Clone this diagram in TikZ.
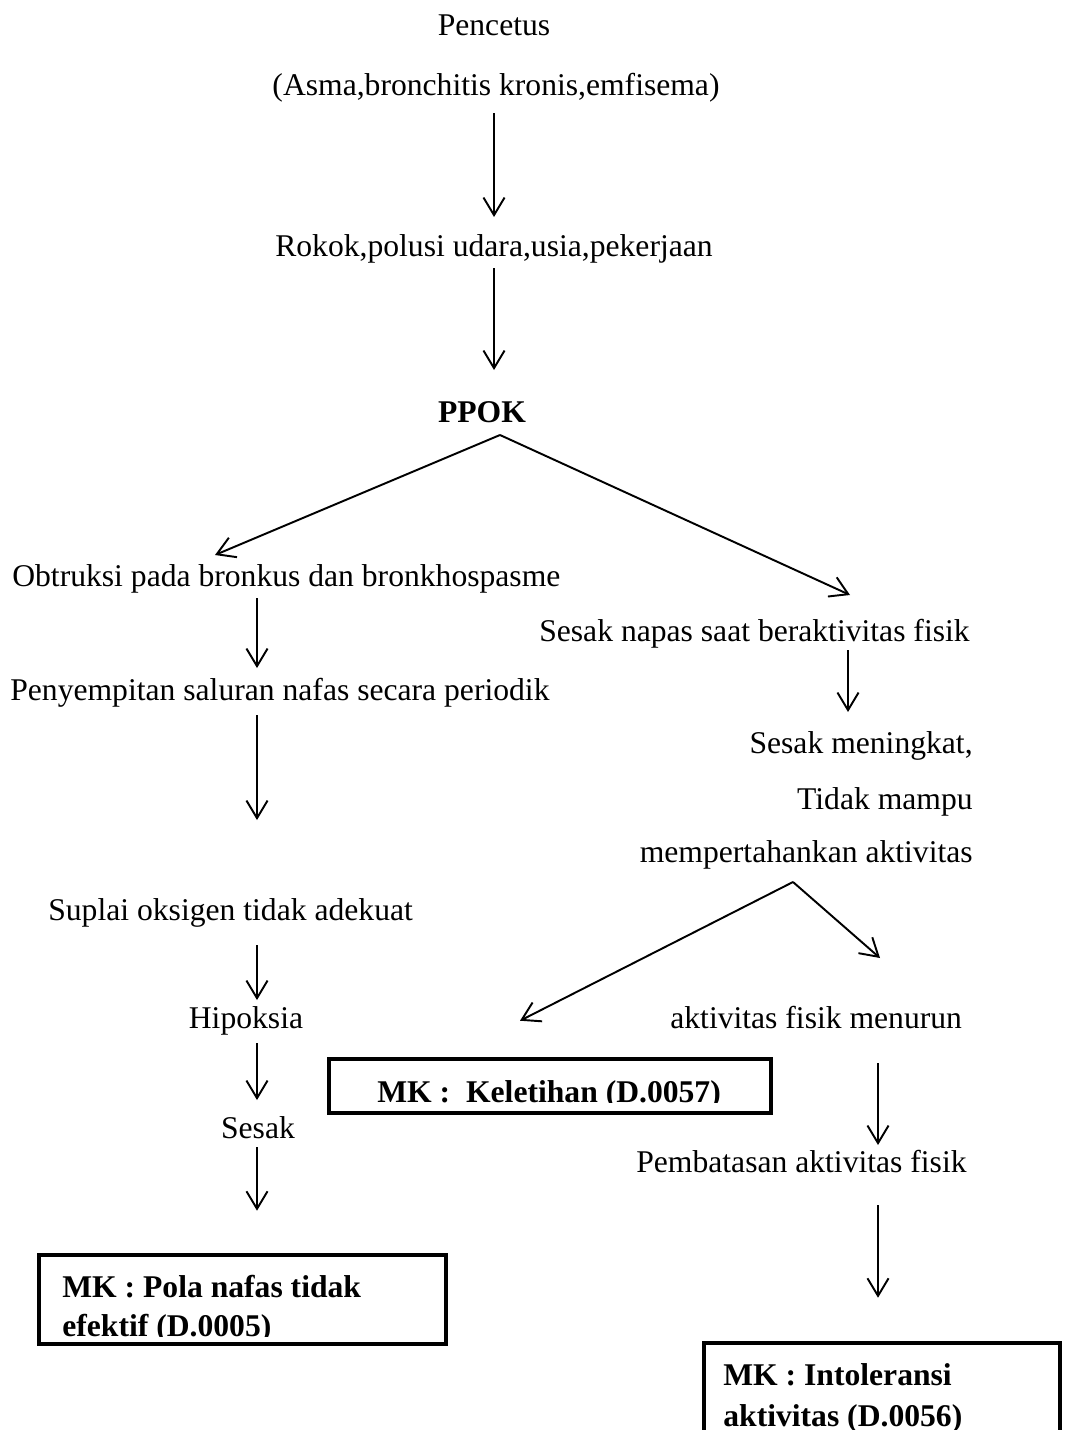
\documentclass[tikz,border=0pt]{standalone}
\usepackage{fontspec}
\setmainfont{Liberation Serif}
\usetikzlibrary{arrows.meta}
\usetikzlibrary{calc}
\usetikzlibrary{positioning}

\begin{document}
\begin{tikzpicture}[x=0.02cm, y=-0.02cm,
        txt/.style={inner sep=0pt, font=\fontsize{18}{22}\selectfont},
        mktxt/.style={inner sep=0pt, anchor=base west, font=\fontsize{18}{22}\selectfont\bfseries},
        arr/.style={-{Straight Barb[length=10pt, width=12pt]}, line width=1.1pt},
        mkbox/.style={draw, line width=2.6pt, inner sep=0pt}]
        \useasboundingbox (0,0) rectangle (1065,1430);
        \coordinate (lcol) at (257,0);
        \coordinate (rcol) at (878,0);
        % top chain
        \node [txt, anchor=base] (pencetus) at (494,35) {Pencetus};
        \node [txt, anchor=base] (asma) at (496,95) {(Asma,bronchitis kronis,emfisema)};
        \node [txt, anchor=base] (rokok) at (494,256) {Rokok,polusi udara,usia,pekerjaan};
        \node [txt, anchor=base, font=\fontsize{18}{22}\selectfont\bfseries] (ppok) at (482,422) {PPOK};
        % left branch
        \node [txt, anchor=base west] (obtruksi) at (12,586) {Obtruksi pada bronkus dan bronkhospasme};
        \node [txt, anchor=base west] (penyempitan) at (10,700) {Penyempitan saluran nafas secara periodik};
        \node [txt, anchor=base west] (suplai) at (48,920) {Suplai oksigen tidak adekuat};
        \node [txt, anchor=base] (hipoksia) at (246,1028) {Hipoksia};
        \node [txt, anchor=base] (sesak) at (258,1138) {Sesak};
        % right branch
        \node [txt, anchor=base east] (sesaknapas) at (970,641) {Sesak napas saat beraktivitas fisik};
        \node [txt, anchor=base east] (meningkat) at (973,753) {Sesak meningkat,};
        \node [txt, anchor=base east] (tidakmampu) at (973,809) {Tidak mampu};
        \node [txt, anchor=base east] (mempertahankan) at (973,862) {mempertahankan aktivitas};
        \node [txt, anchor=base west] (menurun) at (670,1028) {aktivitas fisik menurun};
        \node [txt, anchor=base west] (pembatasan) at (636,1172) {Pembatasan aktivitas fisik};
        % diagnosis boxes
        \node [mkbox, minimum width=8.84cm, minimum height=1.08cm] (keletihan) at (550,1086) {};
        \node [mkbox, minimum width=8.14cm, minimum height=1.78cm] (pola) at (242.5,1299.5) {};
        \node [mkbox, minimum width=7.12cm, minimum height=2.4cm] (intoleransi) at (882,1403) {};
        \begin{scope}
            \clip (keletihan.north west) rectangle ([yshift=7.4pt]keletihan.south east);
            \node [mktxt] (keletihantxt) at (377,1102) {MK :\ \ Keletihan (D.0057)};
        \end{scope}
        \begin{scope}
            \clip (pola.north west) rectangle ([yshift=5.7pt]pola.south east);
            \node [mktxt] (polatxt) at (62,1297) {MK : Pola nafas tidak};
            \node [mktxt, below=22.5pt of polatxt.base west, anchor=base west] (polatxtb) {efektif (D.0005)};
        \end{scope}
        \begin{scope}
            \clip (intoleransi.north west) rectangle (intoleransi.south east);
            \node [mktxt] (intoltxt) at (723,1385) {MK : Intoleransi};
            \node [mktxt, below=23.5pt of intoltxt.base west, anchor=base west] (intoltxtb) {aktivitas (D.0056)};
        \end{scope}
        % arrows
        \draw [arr] ($(asma.base)+(-2,18)$) -- ($(rokok.base)+(0,-39)$);
        \draw [arr] ($(rokok.base)+(0,12)$) -- ($(ppok.base)+(12,-52)$);
        \coordinate (split) at ($(ppok.base)+(18,13)$);
        \draw [arr] (split) -- ($(obtruksi.base west)+(203,-31)$);
        \draw [arr] (split) -- ($(sesaknapas.base east)+(-120,-46)$);
        \draw [arr] ($(obtruksi.base -| lcol)+(0,12)$) -- ($(penyempitan.base -| lcol)+(0,-32)$);
        \draw [arr] ($(penyempitan.base -| lcol)+(0,15)$) -- ($(suplai.base -| lcol)+(0,-100)$);
        \draw [arr] ($(sesaknapas.base east)+(-122,9)$) -- ($(meningkat.base east)+(-125,-41)$);
        \coordinate (fork) at ($(mempertahankan.base east)+(-180,20)$);
        \draw [arr] (fork) -- ($(keletihan.north)+(-30,-36)$);
        \draw [arr] (fork) -- ($(menurun.base west)+(210,-70)$);
        \draw [arr] ($(suplai.base -| lcol)+(0,25)$) -- ($(hipoksia.base -| lcol)+(0,-28)$);
        \draw [arr] ($(hipoksia.base -| lcol)+(0,15)$) -- ($(sesak.base -| lcol)+(0,-38)$);
        \draw [arr] ($(sesak.base -| lcol)+(0,9)$) -- ($(pola.north -| lcol)+(0,-42)$);
        \draw [arr] ($(menurun.base -| rcol)+(0,35)$) -- ($(pembatasan.base -| rcol)+(0,-27)$);
        \draw [arr] ($(pembatasan.base -| rcol)+(0,33)$) -- ($(intoleransi.north -| rcol)+(0,-43)$);
\end{tikzpicture}
\end{document}
